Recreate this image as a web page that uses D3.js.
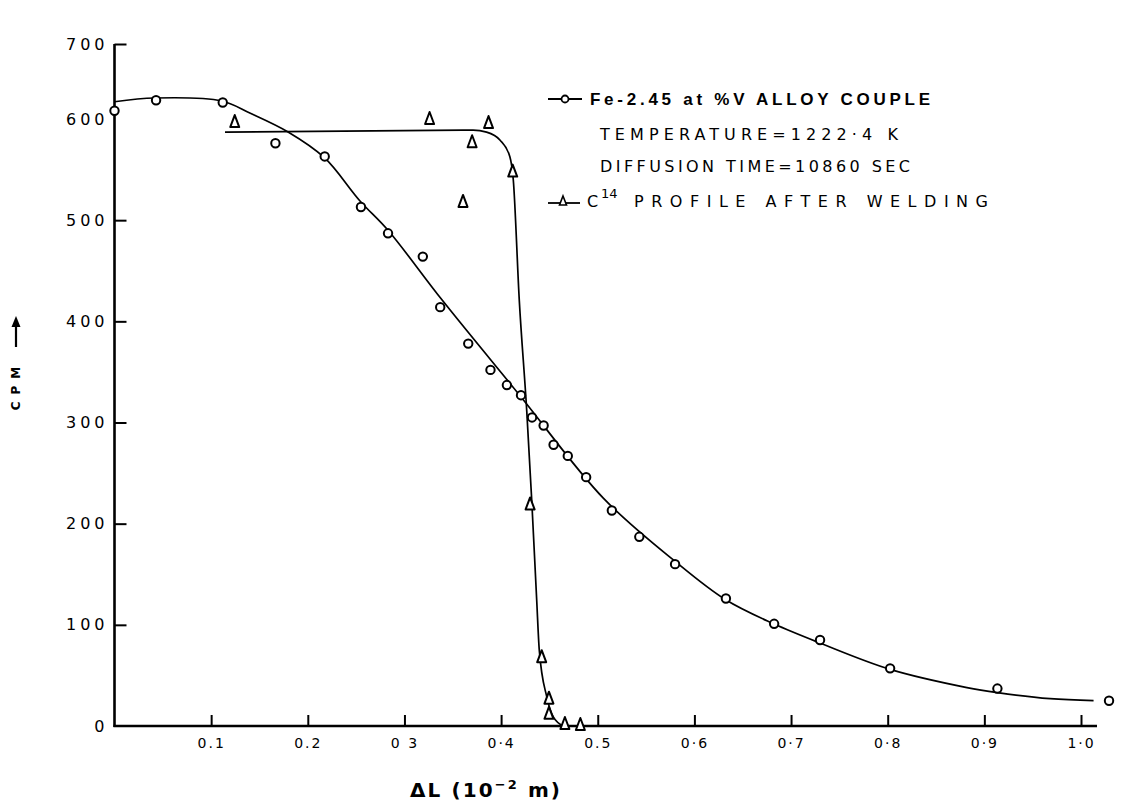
<!DOCTYPE html>
<html><head><meta charset="utf-8">
<script src="https://cdn.jsdelivr.net/npm/d3@7"></script>
<style>body{margin:0;background:#fff}svg{display:block}</style>
</head><body>
<svg id="c" width="1124" height="803"></svg>
<script>
// ---- data ----
const feX = [0.000,0.043,0.112,0.1665,0.2175,0.255,0.283,0.319,0.337,0.366,0.389,0.406,0.4206,0.432,0.444,0.4543,0.469,0.488,0.5146,0.543,0.580,0.6326,0.6825,0.730,0.8025,0.9135,1.029];
const feY = [611,625,622,576,563,513,487,464,414,378,352,337,327,305,297,278,267,246,213,187,160,126,101,85,57,37,25];
const feFitX = [0.000,0.042,0.111,0.140,0.180,0.217,0.254,0.283,0.339,0.420,0.506,0.581,0.632,0.682,0.730,0.8025,0.882,0.9135,0.968,1.013];
const feFitY = [623,628,624,608,587,562,519,490,421,326,225,162,125,101,82,56,38,33,27,25];
const cX = [0.1244,0.326,0.387,0.370,0.412,0.3606,0.430,0.442,0.4495,0.4495,0.466,0.482];
const cY = [597,600,596,577,548,518,219,68,27,12,2,1];
const cFitX = [0.1143,0.371,0.385,0.399,0.409,0.4126,0.4188,0.4265,0.4317,0.4368,0.4395,0.4472,0.454,0.4644];
const cFitY = [587,589,587,579,563,540,421,312,223,125,75,29,9,0];
const xTicks = [0.1,0.2,0.3,0.4,0.5,0.6,0.7,0.8,0.9,1.0];
const xTickLabels = ["0.1","0.2","0 3","0·4","0.5","0·6","0·7","0·8","0·9","1·0"];
const yTicks = [0,100,200,300,400,500,600,700];
const legendTexts = ["Fe-2.45 at %V ALLOY COUPLE","TEMPERATURE=1222·4  K","DIFFUSION TIME=10860 SEC","PROFILE AFTER  WELDING"];

const svg = d3.select("#c");
const x = d3.scaleLinear().domain([0,1]).range([114.5,1081]);
const y = d3.scaleLinear().domain([0,600,700]).range([726,119,44]);
const font = "'DejaVu Sans', sans-serif";

// axes
const ax = svg.append("g").attr("stroke","#000").attr("stroke-width",2.6).attr("fill","none");
ax.append("line").attr("x1",x(0)).attr("x2",x(0)).attr("y1",y(0)+1).attr("y2",y(700));
ax.append("line").attr("x1",x(0)-1).attr("x2",1097).attr("y1",y(0)).attr("y2",y(0));
const xAxis = d3.axisBottom(x).tickValues(xTicks).tickSize(-11).tickFormat((d,i)=>xTickLabels[i]).tickPadding(12);
const gx = svg.append("g").attr("transform",`translate(0,${y(0)})`).call(xAxis);
gx.select(".domain").remove();
gx.selectAll(".tick line").attr("stroke-width",2);
gx.selectAll(".tick text").attr("font-family",font).attr("font-size",14).attr("letter-spacing","2px").attr("fill","#000");
const yAxis = d3.axisLeft(y).tickValues(yTicks).tickSize(-12).tickFormat(d3.format("d")).tickPadding(10);
const gy = svg.append("g").attr("transform",`translate(${x(0)},0)`).call(yAxis);
gy.select(".domain").remove();
gy.selectAll(".tick line").attr("stroke-width",2).attr("display",d=>(d===0||d===600)?"none":null);
gy.selectAll(".tick text").attr("font-family",font).attr("font-size",16).attr("letter-spacing","4px").attr("fill","#000").attr("dx","4px");

// curves
const smooth = d3.line().x(d=>x(d[0])).y(d=>y(d[1])).curve(d3.curveCatmullRom.alpha(0.5));
const mono = d3.line().x(d=>x(d[0])).y(d=>y(d[1])).curve(d3.curveMonotoneX);
svg.append("path").attr("d",smooth(d3.zip(feFitX,feFitY))).attr("fill","none").attr("stroke","#000").attr("stroke-width",1.7);
svg.append("path").attr("d",mono(d3.zip(cFitX,cFitY))).attr("fill","none").attr("stroke","#000").attr("stroke-width",1.7);

// markers
svg.append("g").selectAll("circle").data(d3.zip(feX,feY)).join("circle")
  .attr("cx",d=>x(d[0])).attr("cy",d=>y(d[1])).attr("r",4.2)
  .attr("fill","#fff").attr("stroke","#000").attr("stroke-width",2);
const tri = "M0,-7L4.5,5L-4.5,5Z";
svg.append("g").selectAll("path").data(d3.zip(cX,cY)).join("path")
  .attr("d",tri).attr("transform",d=>`translate(${x(d[0])},${y(d[1])})`)
  .attr("fill","#fff").attr("stroke","#000").attr("stroke-width",2).attr("stroke-linejoin","round");

// legend
const lg = svg.append("g");
const rows = [99,134,166,201];
lg.append("line").attr("x1",548).attr("x2",582).attr("y1",rows[0]).attr("y2",rows[0]).attr("stroke","#000").attr("stroke-width",1.8);
lg.append("circle").attr("cx",565).attr("cy",rows[0]).attr("r",3.5).attr("fill","#fff").attr("stroke","#000").attr("stroke-width",1.8);
lg.append("text").attr("x",590).attr("y",rows[0]+6).attr("font-family","'Liberation Sans', sans-serif").attr("font-weight","bold")
  .attr("font-size",17).attr("textLength",340).attr("lengthAdjust","spacing").text(legendTexts[0]);
lg.append("text").attr("x",600).attr("y",rows[1]+6).attr("font-family",font).attr("font-size",16)
  .attr("textLength",298).attr("lengthAdjust","spacing").text(legendTexts[1]);
lg.append("text").attr("x",600).attr("y",rows[2]+6).attr("font-family",font).attr("font-size",16)
  .attr("textLength",310).attr("lengthAdjust","spacing").text(legendTexts[2]);
lg.append("line").attr("x1",548).attr("x2",580).attr("y1",rows[3]+2).attr("y2",rows[3]+2).attr("stroke","#000").attr("stroke-width",1.8);
lg.append("path").attr("d","M0,-5L3.5,4L-3.5,4Z").attr("transform",`translate(563,${rows[3]})`).attr("fill","#fff").attr("stroke","#000").attr("stroke-width",1.6);
lg.append("text").attr("x",587).attr("y",rows[3]+6).attr("font-family",font).attr("font-size",16).text("C");
lg.append("text").attr("x",601).attr("y",rows[3]-3).attr("font-family",font).attr("font-size",13).text("14");
lg.append("text").attr("x",634).attr("y",rows[3]+6).attr("font-family",font).attr("font-size",16)
  .attr("textLength",354).attr("lengthAdjust","spacing").text(legendTexts[3]);

// axis titles
const xt = svg.append("text").attr("x",410).attr("y",797).attr("font-family",font).attr("font-size",20).attr("font-weight","bold")
  .attr("textLength",150).attr("lengthAdjust","spacing");
xt.append("tspan").text("ΔL (10");
xt.append("tspan").attr("font-size",13).attr("dy",-8).text("−2");
xt.append("tspan").attr("dy",8).text(" m)");
const yt = svg.append("g").attr("transform","translate(20,388) rotate(-90)");
yt.append("text").attr("text-anchor","middle").attr("font-family",font).attr("font-size",12).attr("font-weight","bold")
  .attr("letter-spacing","7px").attr("x",3).text("CPM");
yt.append("line").attr("x1",41).attr("x2",66).attr("y1",-4).attr("y2",-4).attr("stroke","#000").attr("stroke-width",2.2);
yt.append("path").attr("d","M72,-4L61,-8.5L61,0.5Z").attr("fill","#000");
</script>
</body></html>
